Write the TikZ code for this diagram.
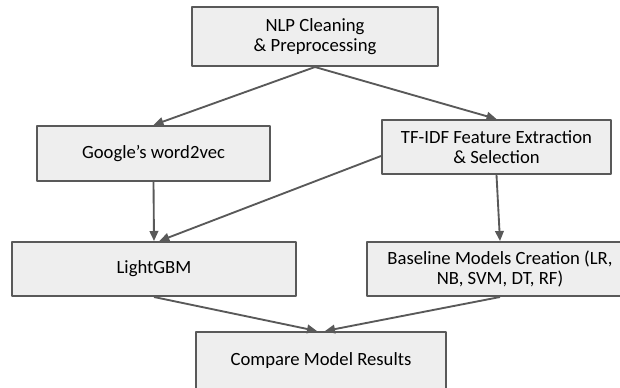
\documentclass[tikz,border=0pt]{standalone}
\usepackage{fontspec}
\setmainfont{Carlito}
\usetikzlibrary{arrows.meta}
\definecolor{boxline}{HTML}{595959}
\definecolor{boxfill}{HTML}{EEEEEE}
\begin{document}
\begin{tikzpicture}[x=0.75pt,y=-0.75pt,line join=round,
    box/.style={draw=boxline,fill=boxfill,line width=1.5pt,align=center,inner sep=0pt,
      font=\fontsize{14}{15.5}\selectfont},
    arr/.style={draw=boxline,line width=1.4pt,-{Triangle[length=7.5pt,width=6.5pt]}}]
    \useasboundingbox (0,0) rectangle (620,387);

    % Boxes
    \node[box,minimum width=184.5pt,minimum height=44.25pt] (nlp) at (315,36.5)
      {NLP Cleaning\\ \& Preprocessing};
    \node[box,minimum width=174.75pt,minimum height=41.25pt] (w2v) at (153.5,153.5)
      {Google’s word2vec};
    \node[box,minimum width=171.75pt,minimum height=40.5pt] (tfidf) at (496.5,147)
      {TF-IDF Feature Extraction\\ \& Selection};
    \node[box,minimum width=213pt,minimum height=40.5pt] (lgbm) at (154,269)
      {LightGBM};
    \node[box,minimum width=199.5pt,minimum height=40.5pt] (base) at (500,269)
      {Baseline Models Creation (LR,\\ NB, SVM, DT, RF)};
    \node[box,minimum width=187.5pt,minimum height=43.5pt,anchor=north] (cmp) at (321,331)
      {Compare Model Results};

    % Connectors
    \draw[arr] (nlp.south) -- (w2v.north);
    \draw[arr] (nlp.south) -- (tfidf.north);
    \draw[arr] (w2v.south) -- (lgbm.north);
    \draw[arr] ([yshift=-6.75pt]tfidf.west) -- ([xshift=4pt]lgbm.north);
    \draw[arr] (tfidf.south) -- (base.north);
    \draw[arr] (lgbm.south) -- ([xshift=-3pt]cmp.north);
    \draw[arr] (base.south) -- ([xshift=3pt]cmp.north);
\end{tikzpicture}
\end{document}
